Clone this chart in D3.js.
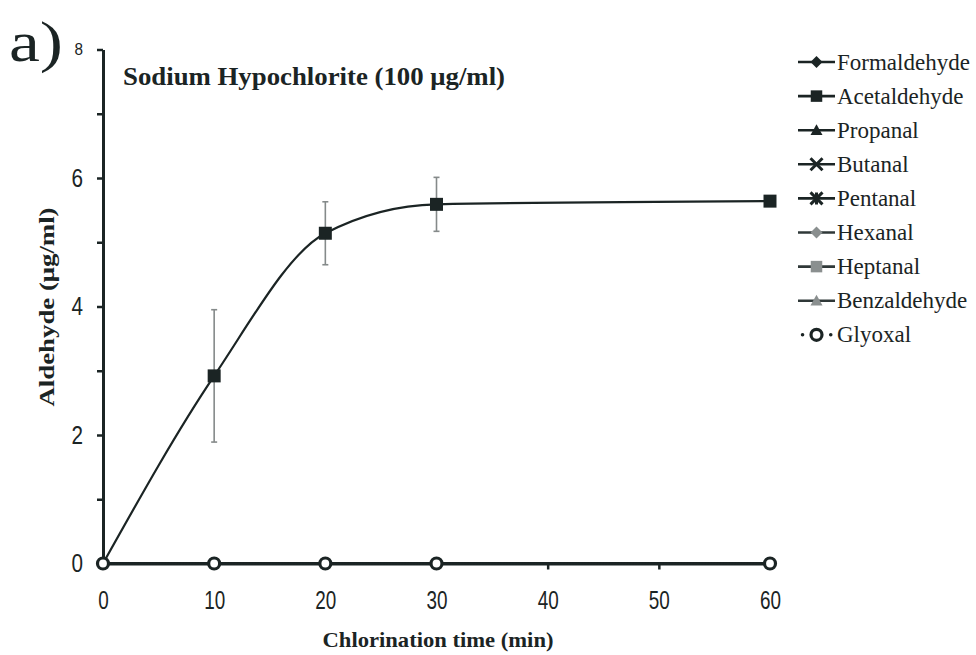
<!DOCTYPE html>
<html>
<head>
<meta charset="utf-8">
<script src="https://cdn.jsdelivr.net/npm/d3@7/dist/d3.min.js"></script>
<style>
  html, body { margin: 0; padding: 0; background: #ffffff; }
  svg { display: block; }
</style>
</head>
<body>
<svg id="chart" width="976" height="655"></svg>
<script>
// Sampling times (min)
const times = [0, 10, 20, 30, 60];

// Aldehyde concentrations (µg/ml) for each compound
const formaldehyde = [0, 0, 0, 0, 0];
const acetaldehyde = [0, 2.92, 5.14, 5.59, 5.64];
const acetaldehydeSD = [0, 1.03, 0.49, 0.42, 0];
const propanal = [0, 0, 0, 0, 0];
const butanal = [0, 0, 0, 0, 0];
const pentanal = [0, 0, 0, 0, 0];
const hexanal = [0, 0, 0, 0, 0];
const heptanal = [0, 0, 0, 0, 0];
const benzaldehyde = [0, 0, 0, 0, 0];
const glyoxal = [0, 0, 0, 0, 0];

// Axis ticks
const xTicks = [0, 10, 20, 30, 40, 50, 60];
const yTicks = [0, 1, 2, 3, 4, 5, 6, 7, 8];
const yLabelled = [0, 2, 4, 6, 8];

const seriesNames = ["Formaldehyde", "Acetaldehyde", "Propanal", "Butanal", "Pentanal",
                     "Hexanal", "Heptanal", "Benzaldehyde", "Glyoxal"];
const seriesValues = [formaldehyde, acetaldehyde, propanal, butanal, pentanal,
                      hexanal, heptanal, benzaldehyde, glyoxal];
const seriesErrors = [null, acetaldehydeSD, null, null, null, null, null, null, null];
const seriesMarkers = ["diamond", "square", "triangle", "cross", "star",
                       "diamond", "square", "triangle", "circle"];

const INK = "#1b2424";
const GREY = "#8a8f8f";
const SERIF = "'Liberation Serif', 'Times New Roman', serif";
const SANS = "'Liberation Sans', Arial, sans-serif";
const markerFill = [INK, INK, INK, INK, INK, GREY, GREY, GREY, "#ffffff"];
const lineColor = [INK, INK, INK, INK, INK, "#2f3838", "#2f3838", "#2f3838", INK];
const lineDash = [null, null, null, null, null, null, null, null, "1,5"];

const svg = d3.select("#chart");

const x = d3.scaleLinear().domain([0, 60]).range([103, 770]);
const y = d3.scaleLinear().domain([0, 8]).range([563.5, 49.5]);

// Marker path generator
function markerPath(type, s) {
  const h = s / 2;
  switch (type) {
    case "diamond": return `M0,${-h}L${h},0L0,${h}L${-h},0Z`;
    case "square": return `M${-h},${-h}H${h}V${h}H${-h}Z`;
    case "triangle": return `M0,${-h}L${h},${h * 0.8}L${-h},${h * 0.8}Z`;
    case "cross": return `M${-h},${-h}L${h},${h}M${-h},${h}L${h},${-h}`;
    case "star": return `M${-h},${-h}L${h},${h}M${-h},${h}L${h},${-h}M0,${-h}V${h}`;
    default: return "";
  }
}
function drawMarker(g, type, s, fill, cx, cy) {
  if (type === "circle") {
    g.append("circle").attr("cx", cx).attr("cy", cy).attr("r", s / 2)
      .attr("fill", "#ffffff").attr("stroke", INK).attr("stroke-width", 3.2);
  } else if (type === "cross" || type === "star") {
    g.append("path").attr("d", markerPath(type, s))
      .attr("transform", `translate(${cx},${cy})`)
      .attr("fill", "none").attr("stroke", fill).attr("stroke-width", 3);
  } else {
    g.append("path").attr("d", markerPath(type, s))
      .attr("transform", `translate(${cx},${cy})`)
      .attr("fill", fill).attr("stroke", "none");
  }
}

// Narrow digit labels
function styleTickText(sel, size, perChar) {
  sel.attr("font-family", SANS).attr("font-size", size).attr("fill", INK)
    .attr("lengthAdjust", "spacingAndGlyphs")
    .each(function () {
      const t = d3.select(this).text();
      if (t.length) d3.select(this).attr("textLength", perChar * t.length);
    });
}

// Axes
const yAxis = d3.axisLeft(y).tickValues(yTicks).tickSize(6).tickSizeOuter(0).tickPadding(14)
  .tickFormat(d => yLabelled.includes(d) ? d : "");
const gy = svg.append("g").attr("transform", `translate(${x(0)},0)`).call(yAxis);
gy.select(".domain").attr("stroke", INK).attr("stroke-width", 3);
gy.selectAll(".tick line").attr("stroke", INK).attr("stroke-width", 2.5);
styleTickText(gy.selectAll(".tick text"), 25, 11.5);
styleTickText(gy.selectAll(".tick text").filter(d => d === 8), 17, 8.5);
gy.selectAll(".tick text").filter(d => d === 8).attr("dy", "0.3em");

const xAxis = d3.axisBottom(x).tickValues(xTicks).tickSize(6).tickSizeOuter(0).tickPadding(22);
const gx = svg.append("g").attr("transform", `translate(0,${y(0)})`).call(xAxis);
gx.select(".domain").attr("stroke", INK).attr("stroke-width", 3);
gx.selectAll(".tick line").attr("stroke", INK).attr("stroke-width", 2.5);
styleTickText(gx.selectAll(".tick text"), 25, 10.5);

// Series lines
const line = d3.line()
  .x((d, i) => x(times[i]))
  .y(d => y(d))
  .curve(d3.curveMonotoneX);

const plot = svg.append("g");
seriesValues.forEach((vals, k) => {
  const p = plot.append("path").datum(vals)
    .attr("d", line)
    .attr("fill", "none")
    .attr("stroke", INK)
    .attr("stroke-width", k === 1 ? 2.2 : 3);
  if (lineDash[k]) p.attr("stroke-dasharray", lineDash[k]).attr("stroke-linecap", "round");
});

// Error bars
seriesErrors.forEach((err, k) => {
  if (!err) return;
  const vals = seriesValues[k];
  vals.forEach((v, i) => {
    if (!err[i]) return;
    const cx = x(times[i]);
    const eg = plot.append("g").attr("stroke", "#858a8a").attr("stroke-width", 1.6);
    eg.append("line").attr("x1", cx).attr("x2", cx).attr("y1", y(v - err[i])).attr("y2", y(v + err[i]));
    eg.append("line").attr("x1", cx - 3).attr("x2", cx + 3).attr("y1", y(v - err[i])).attr("y2", y(v - err[i]));
    eg.append("line").attr("x1", cx - 3).attr("x2", cx + 3).attr("y1", y(v + err[i])).attr("y2", y(v + err[i]));
  });
});

// Markers (zero-level markers sit under the glyoxal circles)
seriesValues.forEach((vals, k) => {
  if (k === 8) return;
  vals.forEach((v, i) => {
    if (v === 0) return;
    drawMarker(plot, seriesMarkers[k], k === 1 ? 13 : 11, markerFill[k], x(times[i]), y(v));
  });
});
glyoxal.forEach((v, i) => drawMarker(plot, "circle", 11, "#fff", x(times[i]), y(v)));

// Legend
const legend = svg.append("g");
seriesNames.forEach((name, k) => {
  const cy = 62 + k * 34.1;
  const g = legend.append("g");
  const ln = g.append("line").attr("x1", 798).attr("x2", 835).attr("y1", cy).attr("y2", cy)
    .attr("stroke", lineColor[k]).attr("stroke-width", 2.6);
  if (lineDash[k]) ln.attr("stroke-dasharray", "0.1,14").attr("stroke-linecap", "round").attr("stroke-width", 3.5)
    .attr("x1", 802.5).attr("x2", 832);
  const size = seriesMarkers[k] === "square" ? 11.5 : seriesMarkers[k] === "circle" ? 11 : 12;
  drawMarker(g, seriesMarkers[k], size, markerFill[k], 816.5, cy);
  g.append("text").attr("font-family", SERIF).attr("fill", INK).attr("x", 837).attr("y", cy + 7.5)
    .attr("font-size", 23).text(name);
});

// Titles
svg.append("text").attr("font-family", SERIF).attr("fill", INK).attr("x", 9).attr("y", 61)
  .attr("font-size", 58).attr("textLength", 54).attr("lengthAdjust", "spacingAndGlyphs").text("a)");
svg.append("text").attr("font-family", SERIF).attr("fill", INK).attr("x", 123).attr("y", 85)
  .attr("font-size", 25).attr("font-weight", "bold").attr("textLength", 382)
  .attr("lengthAdjust", "spacingAndGlyphs").text("Sodium Hypochlorite (100 μg/ml)");
svg.append("text").attr("font-family", SERIF).attr("fill", INK).attr("x", 438).attr("y", 647)
  .attr("font-size", 22).attr("font-weight", "bold").attr("text-anchor", "middle")
  .attr("textLength", 231).attr("lengthAdjust", "spacingAndGlyphs").text("Chlorination time (min)");
svg.append("text").attr("font-family", SERIF).attr("fill", INK)
  .attr("transform", "translate(54,307) rotate(-90)")
  .attr("font-size", 21).attr("font-weight", "bold").attr("text-anchor", "middle")
  .attr("textLength", 199).attr("lengthAdjust", "spacingAndGlyphs").text("Aldehyde (μg/ml)");
</script>
</body>
</html>
